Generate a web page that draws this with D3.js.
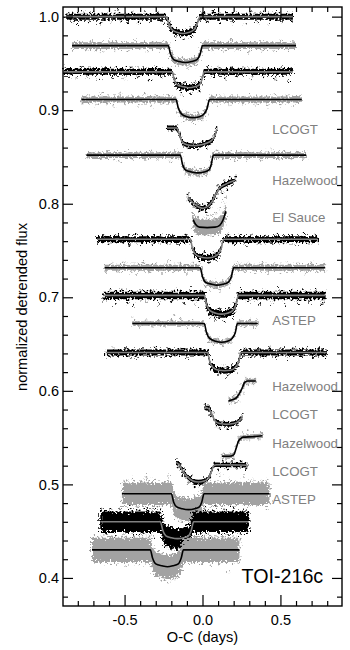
<!DOCTYPE html>
<html>
<head>
<meta charset="utf-8">
<script src="https://cdn.jsdelivr.net/npm/d3@7"></script>
<style>
    html, body { margin: 0; padding: 0; background: #fff; }
    text { font-family: "Liberation Sans", Arial, sans-serif; }
</style>
</head>
<body>
<div id="chart"></div>
<script>
// tick values
const xMajor = [-0.5, 0, 0.5];
const xMinor = [-0.8, -0.7, -0.6, -0.4, -0.3, -0.2, -0.1, 0.1, 0.2, 0.3, 0.4, 0.6, 0.7, 0.8];
const yMajor = [1.0, 0.9, 0.8, 0.7, 0.6, 0.5, 0.4];
const yMinor = [0.98, 0.96, 0.94, 0.92, 0.88, 0.86, 0.84, 0.82, 0.78, 0.76, 0.74, 0.72, 0.68, 0.66, 0.64, 0.62, 0.58, 0.56, 0.54, 0.52, 0.48, 0.46, 0.44, 0.42, 0.38];

// site labels
const siteNames = ['LCOGT', 'Hazelwood', 'El Sauce', 'ASTEP', 'Hazelwood', 'LCOGT', 'Hazelwood', 'LCOGT', 'ASTEP'];
const siteFlux = [0.88, 0.8247, 0.785, 0.675, 0.6047, 0.575, 0.544, 0.514, 0.484];

// scatter half-width of each curve, read by eye
const spreads = [0.0032, 0.0035, 0.0032, 0.0032, 0.0025, 0.003, 0.0025, 0.0085, 0.0032, 0.0032, 0.004, 0.0024, 0.0032, 0.0025, 0.0025, 0.0025, 0.0025, 0.012, 0.011, 0.013];

// model lines [O-C, flux]
const lc01Model = [[-0.874,1.0],[-0.235,1.0],[-0.215,0.992],[-0.195,0.986],[-0.16,0.983],[-0.125,0.982],[-0.09,0.983],[-0.055,0.986],[-0.035,0.992],[-0.015,1.0],[0.58,1.0]];
const lc02Model = [[-0.837,0.969],[-0.22,0.969],[-0.205,0.96],[-0.185,0.954],[-0.15,0.952],[-0.11,0.951],[-0.07,0.952],[-0.035,0.954],[-0.015,0.96],[0,0.969],[0.6,0.969]];
const lc03Model = [[-0.89,0.941],[-0.196,0.941],[-0.18,0.932],[-0.16,0.927],[-0.12,0.925],[-0.09,0.924],[-0.05,0.925],[-0.02,0.927],[-0.005,0.932],[0.011,0.941],[0.58,0.941]];
const lc04Model = [[-0.777,0.9115],[-0.17,0.9115],[-0.155,0.902],[-0.135,0.896],[-0.1,0.893],[-0.06,0.892],[-0.02,0.893],[0.01,0.896],[0.03,0.902],[0.045,0.9115],[0.637,0.9115]];
const lc05Model = [[-0.228,0.881],[-0.165,0.881],[-0.15,0.875],[-0.13,0.866],[-0.1,0.863],[-0.05,0.862],[-0.01,0.863],[0.03,0.865],[0.06,0.868],[0.08,0.873],[0.092,0.88]];
const lc06Model = [[-0.745,0.852],[-0.143,0.852],[-0.128,0.842],[-0.108,0.836],[-0.07,0.834],[-0.03,0.833],[0.01,0.834],[0.04,0.836],[0.056,0.842],[0.07,0.852],[0.665,0.852]];
const lc07Model = [[-0.094,0.806],[-0.06,0.801],[-0.03,0.797],[0,0.795],[0.03,0.797],[0.06,0.802],[0.085,0.81],[0.105,0.816],[0.15,0.821],[0.21,0.825]];
const lc08Model = [[-0.06,0.783],[-0.045,0.778],[-0.02,0.775],[0.03,0.7745],[0.08,0.775],[0.11,0.777],[0.13,0.782],[0.15,0.792]];
const lc09Model = [[-0.677,0.762],[-0.079,0.762],[-0.064,0.752],[-0.045,0.746],[-0.01,0.743],[0.03,0.742],[0.07,0.743],[0.1,0.746],[0.12,0.752],[0.135,0.762],[0.737,0.762]];
const lc10Model = [[-0.628,0.7316],[-0.015,0.7316],[0,0.722],[0.02,0.716],[0.06,0.714],[0.09,0.713],[0.13,0.714],[0.165,0.716],[0.185,0.722],[0.2,0.7316],[0.787,0.7316]];
const lc11Model = [[-0.635,0.702],[0.011,0.702],[0.026,0.692],[0.046,0.686],[0.085,0.683],[0.12,0.682],[0.16,0.683],[0.195,0.686],[0.215,0.692],[0.23,0.702],[0.79,0.702]];
const lc12Model = [[-0.45,0.672],[0.011,0.672],[0.026,0.662],[0.046,0.656],[0.085,0.653],[0.12,0.652],[0.16,0.653],[0.19,0.656],[0.21,0.662],[0.224,0.672],[0.355,0.672]];
const lc13Model = [[-0.62,0.641],[0.032,0.641],[0.047,0.631],[0.067,0.625],[0.105,0.622],[0.14,0.6215],[0.18,0.622],[0.21,0.625],[0.232,0.631],[0.246,0.641],[0.797,0.641]];
const lc14Model = [[0.167,0.5893],[0.2,0.591],[0.22,0.593],[0.24,0.598],[0.255,0.603],[0.27,0.609],[0.29,0.6105],[0.342,0.6105]];
const lc15Model = [[0.013,0.5823],[0.04,0.581],[0.06,0.575],[0.08,0.568],[0.11,0.565],[0.155,0.5642],[0.2,0.565],[0.235,0.568],[0.256,0.5716]];
const lc16Model = [[0.124,0.53],[0.17,0.53],[0.2,0.5315],[0.215,0.538],[0.23,0.546],[0.245,0.549],[0.26,0.5505],[0.32,0.551],[0.385,0.552]];
const lc17Model = [[-0.17,0.5235],[-0.15,0.521],[-0.122,0.513],[-0.09,0.507],[-0.06,0.5035],[-0.026,0.5025],[0.01,0.5035],[0.035,0.506],[0.055,0.513],[0.075,0.5205],[0.09,0.521],[0.288,0.5205]];
const lc18Model = [[-0.517,0.49],[-0.2,0.49],[-0.185,0.481],[-0.165,0.476],[-0.13,0.474],[-0.09,0.473],[-0.05,0.474],[-0.02,0.476],[-0.005,0.481],[0.01,0.49],[0.43,0.49]];
const lc19Model = [[-0.656,0.46],[-0.27,0.46],[-0.255,0.451],[-0.235,0.445],[-0.2,0.443],[-0.16,0.442],[-0.12,0.443],[-0.09,0.445],[-0.072,0.451],[-0.057,0.46],[0.295,0.46]];
const lc20Model = [[-0.709,0.43],[-0.335,0.43],[-0.32,0.421],[-0.3,0.415],[-0.26,0.413],[-0.225,0.412],[-0.19,0.413],[-0.155,0.415],[-0.137,0.421],[-0.122,0.43],[0.237,0.43]];

// fringe of single data points [O-C, flux]
const lc01Dots = [[-0.86,1.004],[-0.83,0.994],[-0.8,0.993],[-0.77,1.005],[-0.73,0.995],[-0.7,1.006],[-0.66,0.992],[-0.62,1.004],[-0.59,0.994],[-0.55,1.007],[-0.52,0.995],[-0.48,0.993],[-0.45,1.005],[-0.41,0.994],[-0.37,1.006],[-0.33,0.995],[-0.29,1.004],[-0.26,0.994],[-0.2,0.985],[-0.17,0.977],[-0.15,0.987],[-0.12,0.976],[-0.09,0.987],[-0.07,0.978],[-0.04,0.99],[0,1.004],[0.03,0.995],[0.07,1.006],[0.11,0.993],[0.15,1.005],[0.19,0.994],[0.23,1.004],[0.27,0.992],[0.31,1.006],[0.35,0.994],[0.39,1.005],[0.43,0.992],[0.47,1.004],[0.51,0.994],[0.55,1.005],[0.57,0.995]];
const lc02Dots = [[-0.83,0.965],[-0.79,0.973],[-0.75,0.964],[-0.72,0.974],[-0.68,0.965],[-0.64,0.962],[-0.6,0.974],[-0.56,0.964],[-0.52,0.973],[-0.48,0.963],[-0.44,0.975],[-0.4,0.965],[-0.36,0.962],[-0.32,0.973],[-0.28,0.964],[-0.24,0.974],[-0.2,0.957],[-0.17,0.947],[-0.13,0.956],[-0.1,0.945],[-0.07,0.957],[-0.04,0.948],[0.02,0.974],[0.06,0.964],[0.1,0.973],[0.14,0.963],[0.18,0.975],[0.22,0.965],[0.26,0.972],[0.3,0.962],[0.34,0.974],[0.38,0.964],[0.42,0.973],[0.46,0.963],[0.5,0.975],[0.54,0.964],[0.58,0.974]];
const lc03Dots = [[-0.88,0.945],[-0.85,0.935],[-0.81,0.934],[-0.78,0.946],[-0.74,0.936],[-0.7,0.945],[-0.66,0.933],[-0.62,0.946],[-0.58,0.935],[-0.54,0.944],[-0.5,0.934],[-0.46,0.946],[-0.42,0.935],[-0.38,0.945],[-0.34,0.933],[-0.3,0.946],[-0.26,0.935],[-0.22,0.945],[-0.17,0.926],[-0.14,0.917],[-0.11,0.93],[-0.08,0.918],[-0.05,0.93],[-0.02,0.92],[0.03,0.946],[0.07,0.935],[0.11,0.945],[0.15,0.934],[0.19,0.946],[0.22,0.936],[0.27,0.945],[0.31,0.933],[0.35,0.946],[0.39,0.935],[0.43,0.944],[0.47,0.934],[0.51,0.945],[0.55,0.931],[0.57,0.945]];
const lc04Dots = [[-0.77,0.907],[-0.73,0.916],[-0.69,0.906],[-0.65,0.917],[-0.61,0.907],[-0.57,0.904],[-0.53,0.917],[-0.49,0.906],[-0.45,0.915],[-0.41,0.906],[-0.37,0.918],[-0.33,0.905],[-0.29,0.916],[-0.25,0.907],[-0.21,0.916],[-0.15,0.897],[-0.12,0.888],[-0.09,0.898],[-0.06,0.886],[-0.03,0.898],[0,0.889],[0.06,0.916],[0.1,0.906],[0.14,0.917],[0.18,0.905],[0.22,0.916],[0.26,0.907],[0.3,0.918],[0.34,0.906],[0.38,0.915],[0.42,0.905],[0.46,0.917],[0.5,0.906],[0.54,0.916],[0.58,0.905],[0.62,0.915]];
const lc05Dots = [[-0.22,0.884],[-0.2,0.878],[-0.18,0.884],[-0.16,0.877],[-0.14,0.871],[-0.12,0.861],[-0.09,0.859],[-0.06,0.866],[-0.03,0.858],[0,0.866],[0.03,0.859],[0.05,0.864],[0.07,0.871],[0.09,0.882]];
const lc06Dots = [[-0.73,0.849],[-0.69,0.855],[-0.65,0.848],[-0.61,0.856],[-0.57,0.848],[-0.53,0.846],[-0.49,0.856],[-0.45,0.848],[-0.41,0.855],[-0.37,0.847],[-0.33,0.857],[-0.29,0.848],[-0.25,0.855],[-0.21,0.846],[-0.17,0.856],[-0.11,0.833],[-0.08,0.83],[-0.05,0.838],[-0.02,0.829],[0.02,0.831],[0.09,0.857],[0.13,0.848],[0.17,0.855],[0.21,0.846],[0.25,0.857],[0.29,0.848],[0.33,0.855],[0.37,0.847],[0.41,0.856],[0.45,0.858],[0.49,0.847],[0.53,0.855],[0.57,0.848],[0.61,0.856],[0.65,0.848]];
const lc07Dots = [[-0.09,0.81],[-0.08,0.802],[-0.06,0.797],[-0.03,0.801],[-0.02,0.792],[0.01,0.799],[0.02,0.791],[0.04,0.801],[0.05,0.795],[0.07,0.808],[0.09,0.806],[0.1,0.82],[0.12,0.812],[0.14,0.825],[0.16,0.815],[0.18,0.828],[0.19,0.819],[0.21,0.829]];
const lc08Dots = [[-0.06,0.79],[-0.05,0.771],[-0.03,0.785],[-0.02,0.769],[0,0.783],[0.02,0.767],[0.03,0.787],[0.05,0.768],[0.06,0.788],[0.08,0.77],[0.09,0.79],[0.1,0.771],[0.11,0.795],[0.12,0.774],[0.13,0.802],[0.14,0.781],[0.145,0.807],[0.15,0.796],[0.135,0.812]];
const lc09Dots = [[-0.67,0.758],[-0.63,0.766],[-0.59,0.757],[-0.55,0.767],[-0.51,0.758],[-0.47,0.756],[-0.43,0.768],[-0.39,0.758],[-0.35,0.766],[-0.31,0.757],[-0.27,0.767],[-0.23,0.758],[-0.19,0.766],[-0.15,0.756],[-0.11,0.767],[-0.05,0.749],[-0.02,0.738],[0.01,0.748],[0.04,0.737],[0.07,0.748],[0.1,0.739],[0.16,0.767],[0.2,0.757],[0.24,0.766],[0.28,0.756],[0.32,0.767],[0.36,0.757],[0.4,0.766],[0.44,0.758],[0.48,0.768],[0.52,0.757],[0.56,0.766],[0.6,0.756],[0.64,0.767],[0.68,0.757],[0.72,0.766]];
const lc10Dots = [[-0.62,0.727],[-0.58,0.736],[-0.54,0.727],[-0.5,0.738],[-0.46,0.727],[-0.42,0.725],[-0.38,0.737],[-0.34,0.727],[-0.3,0.736],[-0.26,0.726],[-0.22,0.738],[-0.18,0.727],[-0.14,0.736],[-0.1,0.726],[-0.06,0.737],[0.02,0.711],[0.05,0.709],[0.08,0.717],[0.11,0.708],[0.14,0.718],[0.17,0.71],[0.22,0.738],[0.26,0.727],[0.3,0.736],[0.34,0.726],[0.38,0.737],[0.42,0.727],[0.46,0.736],[0.5,0.726],[0.54,0.738],[0.58,0.727],[0.62,0.736],[0.66,0.726],[0.7,0.737],[0.74,0.727],[0.78,0.736]];
const lc11Dots = [[-0.63,0.697],[-0.59,0.708],[-0.56,0.693],[-0.52,0.709],[-0.48,0.694],[-0.44,0.692],[-0.4,0.709],[-0.36,0.695],[-0.32,0.708],[-0.28,0.693],[-0.24,0.709],[-0.2,0.695],[-0.16,0.708],[-0.12,0.694],[-0.08,0.709],[-0.04,0.692],[0,0.707],[0.05,0.68],[0.08,0.676],[0.11,0.688],[0.14,0.675],[0.17,0.689],[0.2,0.677],[0.25,0.708],[0.29,0.695],[0.33,0.709],[0.37,0.693],[0.41,0.707],[0.45,0.694],[0.49,0.709],[0.53,0.692],[0.57,0.708],[0.61,0.694],[0.65,0.709],[0.69,0.695],[0.73,0.707],[0.77,0.693]];
const lc12Dots = [[-0.45,0.679],[-0.43,0.675],[-0.4,0.668],[-0.36,0.676],[-0.32,0.668],[-0.28,0.675],[-0.24,0.667],[-0.2,0.676],[-0.18,0.681],[-0.14,0.677],[-0.1,0.667],[-0.06,0.675],[-0.02,0.668],[0.04,0.652],[0.07,0.649],[0.1,0.656],[0.13,0.648],[0.16,0.656],[0.19,0.651],[0.24,0.676],[0.27,0.668],[0.3,0.676],[0.33,0.668],[0.35,0.677]];
const lc13Dots = [[-0.61,0.637],[-0.57,0.645],[-0.53,0.637],[-0.49,0.646],[-0.46,0.636],[-0.42,0.635],[-0.38,0.647],[-0.34,0.637],[-0.3,0.645],[-0.26,0.636],[-0.22,0.646],[-0.18,0.637],[-0.14,0.645],[-0.1,0.635],[-0.06,0.646],[-0.02,0.637],[0.07,0.62],[0.1,0.617],[0.13,0.626],[0.16,0.616],[0.19,0.627],[0.22,0.619],[0.27,0.646],[0.31,0.636],[0.35,0.645],[0.39,0.637],[0.43,0.647],[0.47,0.636],[0.51,0.645],[0.55,0.635],[0.59,0.646],[0.63,0.637],[0.67,0.645],[0.71,0.636],[0.75,0.646],[0.79,0.637]];
const lc14Dots = [[0.17,0.593],[0.18,0.586],[0.2,0.595],[0.21,0.587],[0.22,0.598],[0.23,0.589],[0.25,0.607],[0.26,0.598],[0.28,0.614],[0.29,0.607],[0.31,0.613],[0.33,0.607],[0.34,0.613]];
const lc15Dots = [[0.02,0.586],[0.04,0.584],[0.05,0.574],[0.07,0.577],[0.09,0.562],[0.11,0.56],[0.14,0.568],[0.16,0.559],[0.19,0.56],[0.22,0.563],[0.24,0.572],[0.26,0.575]];
const lc16Dots = [[0.13,0.533],[0.15,0.526],[0.18,0.534],[0.2,0.527],[0.21,0.541],[0.23,0.551],[0.24,0.544],[0.26,0.555],[0.29,0.558],[0.3,0.547],[0.33,0.556],[0.36,0.548],[0.38,0.555]];
const lc17Dots = [[-0.17,0.527],[-0.16,0.518],[-0.14,0.522],[-0.13,0.509],[-0.11,0.516],[-0.09,0.502],[-0.07,0.509],[-0.05,0.497],[-0.02,0.499],[0.01,0.507],[0.03,0.5],[0.05,0.508],[0.06,0.518],[0.1,0.516],[0.13,0.525],[0.16,0.516],[0.19,0.525],[0.22,0.517],[0.25,0.525],[0.28,0.516]];
const lc18Dots = [[-0.51,0.504],[-0.48,0.476],[-0.45,0.506],[-0.42,0.475],[-0.39,0.503],[-0.36,0.508],[-0.33,0.474],[-0.3,0.505],[-0.27,0.477],[-0.24,0.503],[-0.22,0.509],[-0.17,0.466],[-0.14,0.46],[-0.1,0.462],[-0.07,0.458],[-0.03,0.463],[0.03,0.506],[0.05,0.476],[0.08,0.503],[0.11,0.511],[0.14,0.474],[0.17,0.505],[0.2,0.476],[0.23,0.503],[0.26,0.508],[0.29,0.475],[0.32,0.505],[0.35,0.477],[0.38,0.504],[0.41,0.474],[0.42,0.505]];
const lc19Dots = [[-0.65,0.474],[-0.62,0.448],[-0.59,0.473],[-0.56,0.445],[-0.53,0.474],[-0.5,0.447],[-0.47,0.477],[-0.44,0.446],[-0.41,0.473],[-0.38,0.448],[-0.35,0.475],[-0.32,0.445],[-0.29,0.474],[-0.24,0.435],[-0.2,0.431],[-0.16,0.43],[-0.12,0.433],[-0.09,0.436],[-0.23,0.454],[-0.11,0.456],[-0.04,0.475],[-0.01,0.447],[0.02,0.474],[0.05,0.446],[0.08,0.477],[0.11,0.448],[0.14,0.473],[0.17,0.445],[0.2,0.475],[0.23,0.447],[0.26,0.473],[0.29,0.448]];
const lc20Dots = [[-0.7,0.443],[-0.67,0.417],[-0.64,0.445],[-0.61,0.415],[-0.58,0.446],[-0.55,0.416],[-0.52,0.444],[-0.49,0.414],[-0.46,0.447],[-0.43,0.416],[-0.4,0.444],[-0.37,0.415],[-0.34,0.446],[-0.3,0.403],[-0.26,0.397],[-0.22,0.395],[-0.18,0.398],[-0.15,0.401],[-0.29,0.428],[-0.16,0.427],[-0.1,0.445],[-0.07,0.416],[-0.04,0.444],[-0.01,0.415],[0.02,0.447],[0.05,0.414],[0.08,0.445],[0.11,0.416],[0.14,0.444],[0.17,0.406],[0.2,0.446],[0.23,0.416]];

const curves = [
    [lc01Model, lc01Dots], [lc02Model, lc02Dots], [lc03Model, lc03Dots], [lc04Model, lc04Dots], [lc05Model, lc05Dots],
    [lc06Model, lc06Dots], [lc07Model, lc07Dots], [lc08Model, lc08Dots], [lc09Model, lc09Dots], [lc10Model, lc10Dots],
    [lc11Model, lc11Dots], [lc12Model, lc12Dots], [lc13Model, lc13Dots], [lc14Model, lc14Dots], [lc15Model, lc15Dots],
    [lc16Model, lc16Dots], [lc17Model, lc17Dots], [lc18Model, lc18Dots], [lc19Model, lc19Dots], [lc20Model, lc20Dots]
];

const width = 350, height = 650;
const plotLeft = 63, plotRight = 342, plotTop = 7, plotBottom = 606;

const x = d3.scaleLinear().domain([-0.895, 0.895]).range([plotLeft, plotRight]);
const y = d3.scaleLinear().domain([0.37, 1.0103]).range([plotBottom, plotTop]);

const svg = d3.select('#chart').append('svg')
    .attr('width', width)
    .attr('height', height)
    .style('display', 'block');

const defs = svg.append('defs');

// grain filter, only a visual texture that roughens the drawn clouds like overplotted points
function addGrain(id, scale) {
    const f = defs.append('filter')
        .attr('id', id)
        .attr('filterUnits', 'userSpaceOnUse')
        .attr('x', 0)
        .attr('y', 0)
        .attr('width', width)
        .attr('height', height)
        .attr('color-interpolation-filters', 'sRGB');
    f.append('feTurbulence')
        .attr('type', 'fractalNoise')
        .attr('baseFrequency', 0.5)
        .attr('numOctaves', 2)
        .attr('seed', 4)
        .attr('result', 'noise');
    f.append('feDisplacementMap')
        .attr('in', 'SourceGraphic')
        .attr('in2', 'noise')
        .attr('scale', scale)
        .attr('xChannelSelector', 'R')
        .attr('yChannelSelector', 'G')
        .attr('result', 'moved');
    f.append('feGaussianBlur')
        .attr('in', 'moved')
        .attr('stdDeviation', 0.3);
}
addGrain('grainFine', 5);
addGrain('grain', 9);
addGrain('grainWide', 12);

function grainFor(s) {
    if (s > 0.01) return 'url(#grainWide)';
    if (s > 0.0026) return 'url(#grain)';
    return 'url(#grainFine)';
}

const plot = svg.append('g');

const line = d3.line().x(d => x(d[0])).y(d => y(d[1])).curve(d3.curveMonotoneX);

curves.forEach((c, i) => {
    // odd rows are black points with a grey model, even rows the other way round
    const black = i % 2 === 0;
    const dotColor = black ? '#000' : '#a2a2a2';
    const lineColor = black ? '#808080' : '#000';
    const s = spreads[i];
    const band = d3.area()
        .x(d => x(d[0]))
        .y0(d => y(d[1] - s))
        .y1(d => y(d[1] + s))
        .curve(d3.curveMonotoneX);
    const row = plot.append('g');
    const cloud = row.append('g').attr('filter', grainFor(s));
    cloud.append('path').attr('d', band(c[0])).attr('fill', dotColor);
    cloud.selectAll('circle')
        .data(c[1])
        .enter()
        .append('circle')
        .attr('cx', d => x(d[0]))
        .attr('cy', d => y(d[1]))
        .attr('r', 0.9)
        .attr('fill', dotColor);
    row.append('path')
        .attr('d', line(c[0]))
        .attr('fill', 'none')
        .attr('stroke', lineColor)
        .attr('stroke-width', 1.6);
});

// axes, ticks point inwards on all four sides
function drawAxis(axis, tx, ty, labels) {
    const g = svg.append('g')
        .attr('transform', 'translate(' + tx + ',' + ty + ')')
        .call(axis);
    g.selectAll('path').remove();
    g.selectAll('line').attr('stroke', '#000').attr('stroke-width', 1.2);
    g.selectAll('text').attr('fill', '#000').style('font-size', '14.5px');
    if (!labels) g.selectAll('text').remove();
    return g;
}

const oneDecimal = d => d.toFixed(1);

drawAxis(d3.axisBottom(x).tickValues(xMajor).tickSize(-11).tickPadding(9).tickFormat(oneDecimal), 0, plotBottom, true);
drawAxis(d3.axisBottom(x).tickValues(xMinor).tickSize(-5), 0, plotBottom, false);
drawAxis(d3.axisTop(x).tickValues(xMajor).tickSize(-11), 0, plotTop, false);
drawAxis(d3.axisTop(x).tickValues(xMinor).tickSize(-5), 0, plotTop, false);
drawAxis(d3.axisLeft(y).tickValues(yMajor).tickSize(-10).tickPadding(4).tickFormat(oneDecimal), plotLeft, 0, true);
drawAxis(d3.axisLeft(y).tickValues(yMinor).tickSize(-5), plotLeft, 0, false);
drawAxis(d3.axisRight(y).tickValues(yMajor).tickSize(-10), plotRight, 0, false);
drawAxis(d3.axisRight(y).tickValues(yMinor).tickSize(-5), plotRight, 0, false);

svg.append('rect')
    .attr('x', plotLeft)
    .attr('y', plotTop)
    .attr('width', plotRight - plotLeft)
    .attr('height', plotBottom - plotTop)
    .attr('fill', 'none')
    .attr('stroke', '#000')
    .attr('stroke-width', 1.4);

svg.selectAll('.site')
    .data(siteNames)
    .enter()
    .append('text')
    .attr('class', 'site')
    .attr('x', x(0.447))
    .attr('y', (d, i) => y(siteFlux[i]))
    .attr('dy', '0.35em')
    .attr('fill', '#808080')
    .style('font-size', '13.3px')
    .text(d => d);

svg.append('text')
    .attr('x', 241.5)
    .attr('y', 583)
    .style('font-size', '19.7px')
    .text('TOI-216c');

svg.append('text')
    .attr('x', (plotLeft + plotRight) / 2)
    .attr('y', 642)
    .attr('text-anchor', 'middle')
    .style('font-size', '14.6px')
    .text('O-C (days)');

svg.append('text')
    .attr('transform', 'translate(27,307) rotate(-90)')
    .attr('text-anchor', 'middle')
    .style('font-size', '14.6px')
    .text('normalized detrended flux');
</script>
</body>
</html>
